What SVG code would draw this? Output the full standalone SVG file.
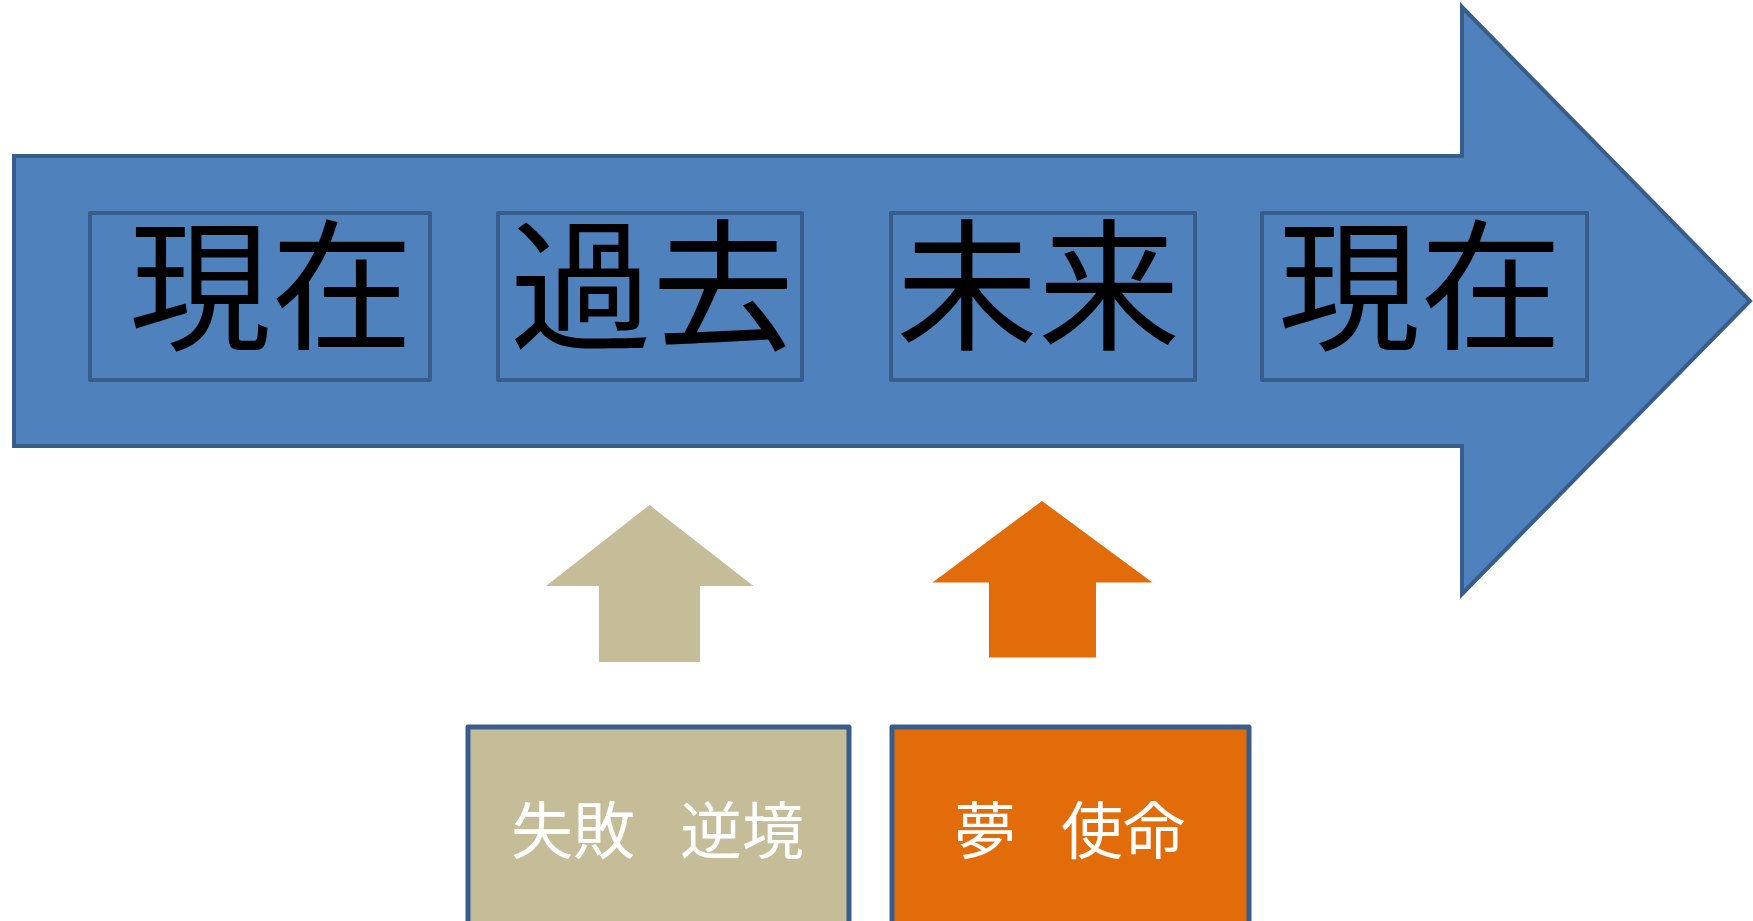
<svg xmlns="http://www.w3.org/2000/svg" width="1753" height="921" viewBox="0 0 1753 921">
<style>
.big{fill:#4F81BD;stroke:#385D8A;stroke-width:4;stroke-linejoin:miter}
.box{fill:none;stroke:#385D8A;stroke-width:4;stroke-linejoin:round}
.lbl{font-family:"Noto Sans CJK JP","Noto Sans CJK SC",sans-serif;font-size:142px;fill:#000;text-anchor:middle}
.sub{font-family:"Noto Sans CJK JP","Noto Sans CJK SC",sans-serif;font-size:62px;fill:#fff}
.tan{fill:#C4BD97}
.org{fill:#E36C0A}
.bx{stroke:#385D8A;stroke-width:5;stroke-linejoin:round}
</style>
<g id="main-arrow">
<path class="big" d="M14,156 L1462,156 L1462,7 L1750,301 L1462,594 L1462,446 L14,446 Z"/>
</g>
<g id="node-genzai1">
<rect class="box" x="90" y="213" width="340" height="167"/>
<text class="lbl" x="271" y="339">現在</text>
</g>
<g id="node-kako">
<rect class="box" x="498" y="213" width="304" height="167"/>
<text class="lbl" x="652" y="339">過去</text>
</g>
<g id="node-mirai">
<rect class="box" x="891" y="213" width="304" height="167"/>
<text class="lbl" x="1038" y="339">未来</text>
</g>
<g id="node-genzai2">
<rect class="box" x="1262" y="213" width="325" height="167"/>
<text class="lbl" x="1420" y="339">現在</text>
</g>
<g id="connectors">
<path class="tan" d="M649.5,505 L753.5,586 L700,586 L700,662 L599,662 L599,586 L546,586 Z"/>
<path class="org" d="M1042,501 L1152.5,582.5 L1096,582.5 L1096,657.5 L989,657.5 L989,582.5 L932.5,582.5 Z"/>
</g>
<g id="node-shippai">
<rect class="tan bx" x="468" y="727" width="381" height="220"/>
<text class="sub" y="854"><tspan x="511">失敗</tspan> <tspan x="680">逆境</tspan></text>
</g>
<g id="node-yume">
<rect class="org bx" x="892" y="727" width="357" height="220"/>
<text class="sub" y="854"><tspan x="954">夢</tspan> <tspan x="1061">使命</tspan></text>
</g>
</svg>
